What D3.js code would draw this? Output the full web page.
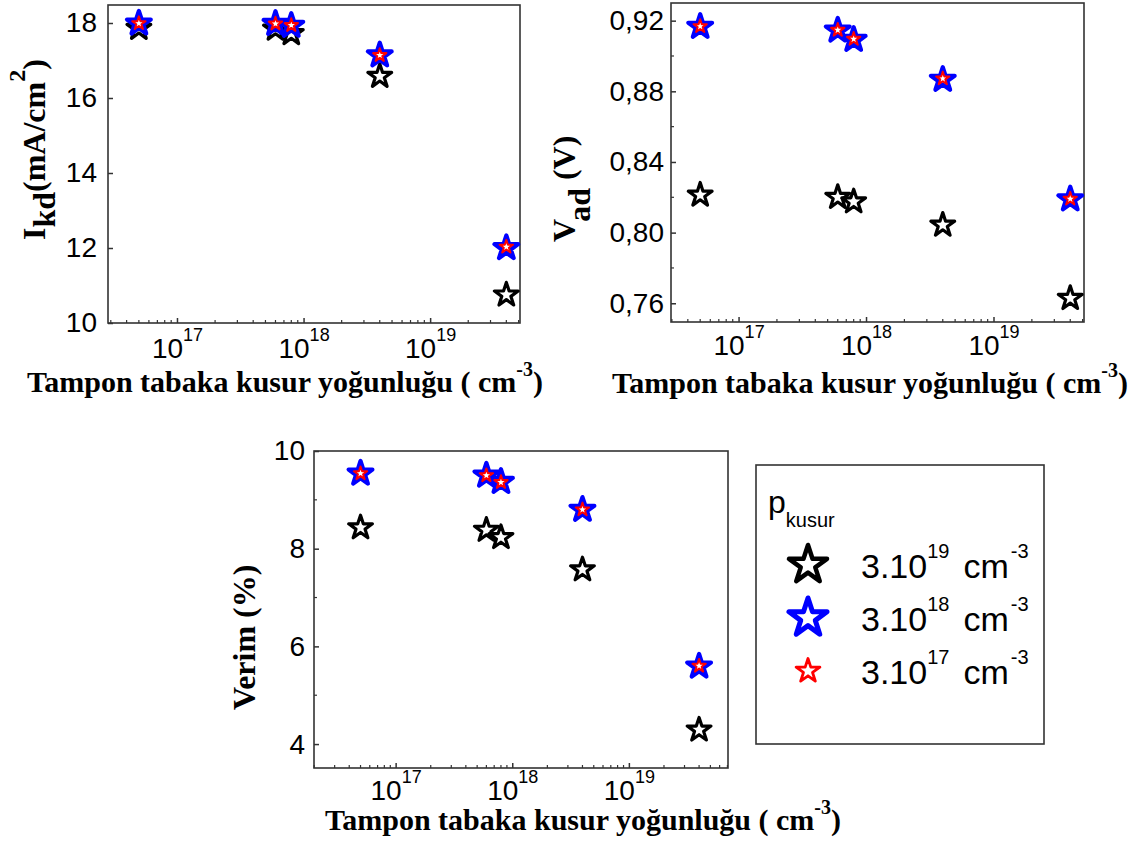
<!DOCTYPE html>
<html>
<head>
<meta charset="utf-8">
<script src="https://cdn.jsdelivr.net/npm/d3@7"></script>
<style>
  body { margin: 0; background: #fff; }
  svg { display: block; }
  .tick text { font-family: "Liberation Sans", Arial, sans-serif; font-size: 28px; fill: #000; }
  .title { font-family: "Liberation Serif", "Times New Roman", serif; font-weight: bold; fill: #000; }
  .leg { font-family: "Liberation Sans", Arial, sans-serif; fill: #000; }
</style>
</head>
<body>
<svg id="chart" width="1142" height="843"></svg>
<script>
// tampon tabaka kusur yogunlugu (cm-3)
var kusur = [5e16, 6e17, 8e17, 4e18, 4e19];

// I_kd (mA/cm2) for p_kusur = 3e19, 3e18, 3e17
var ikd19 = [17.86, 17.84, 17.72, 16.58, 10.75];
var ikd18 = [17.99, 17.98, 17.93, 17.14, 12.00];
var ikd17 = [17.99, 17.98, 17.94, 17.14, 12.03];

// V_ad (V)
var vad19 = [0.8213, 0.8200, 0.8175, 0.8043, 0.7628];
var vad18 = [0.9166, 0.9145, 0.9092, 0.8866, 0.8189];
var vad17 = [0.9168, 0.9147, 0.9096, 0.8872, 0.8191];

// Verim (%)
var verim19 = [8.43, 8.38, 8.23, 7.57, 4.29];
var verim18 = [9.54, 9.50, 9.37, 8.80, 5.59];
var verim17 = [9.54, 9.50, 9.36, 8.80, 5.60];

var legendLabels = ["19", "18", "17"];
var xTicks = [1e17, 1e18, 1e19];
var ikdTicks = [10, 12, 14, 16, 18];
var vadTicks = [0.76, 0.80, 0.84, 0.88, 0.92];
var vadMinor = [0.78, 0.82, 0.86, 0.90];
var verimTicks = [4, 6, 8, 10];
var verimMinor = [5, 7, 9];

var svg = d3.select("#chart");

var styles = [
  {color: "#000000", r: 12.5, w: 3.2},
  {color: "#0000ff", r: 12.5, w: 4.2},
  {color: "#ff0000", r: 7, w: 2}
];

function starPath(r) {
  return d3.symbol().type(d3.symbolStar).size(r * r / 0.8908130915292852)();
}

function drawPanel(p) {
  var g = svg.append("g");
  var x = d3.scaleLog().domain(p.xDomain).range([p.left, p.right]);
  var y = d3.scaleLinear().domain(p.yDomain).range([p.bottom, p.top]);

  // minor x ticks
  var minor = [];
  for (var d = 16; d <= 19; d++) {
    for (var k = 2; k <= 9; k++) {
      var v = k * Math.pow(10, d);
      if (v > p.xDomain[0] && v < p.xDomain[1]) minor.push(v);
    }
  }
  g.selectAll(".mx").data(minor).enter().append("line")
    .attr("x1", function(d) { return x(d); }).attr("x2", function(d) { return x(d); })
    .attr("y1", p.bottom).attr("y2", p.bottom - 3)
    .attr("stroke", "#333").attr("stroke-width", 1.2);
  g.selectAll(".my").data(p.yMinor).enter().append("line")
    .attr("x1", p.left).attr("x2", p.left + 3)
    .attr("y1", function(d) { return y(d); }).attr("y2", function(d) { return y(d); })
    .attr("stroke", "#333").attr("stroke-width", 1.2);

  var xa = g.append("g").attr("transform", "translate(0," + p.bottom + ")")
    .call(d3.axisBottom(x).tickValues(xTicks).tickSizeInner(-5).tickSizeOuter(0));
  xa.select(".domain").remove();
  xa.selectAll(".tick line").attr("stroke", "#333").attr("stroke-width", 1.5);
  xa.selectAll(".tick text").each(function(d) {
    var t = d3.select(this).text(null).attr("y", p.xLabelOff).attr("dy", 0);
    t.append("tspan").text("10");
    t.append("tspan").attr("dy", -17).style("font-size", "18px").text(Math.round(Math.log10(d)));
  });

  var ya = g.append("g").attr("transform", "translate(" + p.left + ",0)")
    .call(d3.axisLeft(y).tickValues(p.yTicks).tickSizeInner(-5).tickSizeOuter(0).tickFormat(p.fmt));
  ya.select(".domain").remove();
  ya.selectAll(".tick line").attr("stroke", "#333").attr("stroke-width", 1.5);
  ya.selectAll(".tick text").attr("x", -p.yLabelOff);

  g.append("rect").attr("x", p.left).attr("y", p.top)
    .attr("width", p.right - p.left).attr("height", p.bottom - p.top)
    .attr("fill", "none").attr("stroke", "#333").attr("stroke-width", 1.6);

  // markers: black, then blue, then red on top
  p.series.forEach(function(vals, i) {
    var s = styles[i];
    g.selectAll(".s" + i).data(vals).enter().append("path")
      .attr("d", starPath(s.r))
      .attr("transform", function(d, j) { return "translate(" + x(kusur[j]) + "," + y(d) + ")"; })
      .attr("fill", "#fff").attr("stroke", s.color).attr("stroke-width", s.w)
      .attr("stroke-linejoin", "round");
  });

  // x title
  var xt = svg.append("text").attr("class", "title").attr("x", p.xtX).attr("y", p.xtY)
    .style("font-size", "30px");
  xt.append("tspan").text("Tampon tabaka kusur yoğunluğu ( cm");
  xt.append("tspan").attr("dy", -16).style("font-size", "20px").text("-3");
  xt.append("tspan").attr("dy", 16).text(")");

  // y title
  var yt = svg.append("text").attr("class", "title")
    .attr("transform", "translate(" + p.ytX + "," + p.ytY + ") rotate(-90)")
    .style("font-size", "32px");
  p.yTitle.forEach(function(part) {
    var ts = yt.append("tspan").text(part.t);
    if (part.dy) ts.attr("dy", part.dy);
    if (part.fs) ts.style("font-size", part.fs);
  });
}

var comma = function(d) { return d3.format(".2f")(d).replace(".", ","); };

drawPanel({
  left: 108, right: 520, top: 5, bottom: 323,
  xDomain: [Math.pow(10, 16.455), Math.pow(10, 19.71)], yDomain: [10, 18.48],
  yTicks: ikdTicks, yMinor: [], fmt: d3.format("d"),
  xLabelOff: 35, yLabelOff: 11,
  series: [ikd19, ikd18, ikd17],
  xtX: 27, xtY: 392, ytX: 45, ytY: 240,
  yTitle: [{t: "I"}, {t: "kd", dy: 10}, {t: "(mA/cm", dy: -10}, {t: "2", dy: -20, fs: "24px"}, {t: ")", dy: 20}]
});

drawPanel({
  left: 671, right: 1084, top: 3, bottom: 322,
  xDomain: [Math.pow(10, 16.47), Math.pow(10, 19.71)], yDomain: [0.7494, 0.930],
  yTicks: vadTicks, yMinor: vadMinor, fmt: comma,
  xLabelOff: 33, yLabelOff: 7,
  series: [vad19, vad18, vad17],
  xtX: 612, xtY: 393, ytX: 575, ytY: 242,
  yTitle: [{t: "V"}, {t: "ad", dy: 15}, {t: " (V)", dy: -15}]
});

drawPanel({
  left: 314, right: 728, top: 451, bottom: 768,
  xDomain: [Math.pow(10, 16.3), Math.pow(10, 19.85)], yDomain: [3.51, 10],
  yTicks: verimTicks, yMinor: verimMinor, fmt: d3.format("d"),
  xLabelOff: 32, yLabelOff: 9,
  series: [verim19, verim18, verim17],
  xtX: 325, xtY: 830, ytX: 255, ytY: 710,
  yTitle: [{t: "Verim (%)"}]
});

// legend
var lg = svg.append("g");
lg.append("rect").attr("x", 756).attr("y", 465).attr("width", 288).attr("height", 279)
  .attr("fill", "none").attr("stroke", "#333").attr("stroke-width", 1.6);
var lt = lg.append("text").attr("class", "leg").attr("x", 768).attr("y", 513).style("font-size", "32px");
lt.append("tspan").text("p");
lt.append("tspan").attr("dy", 14).style("font-size", "20px").text("kusur");

var legStyles = [
  {color: "#000000", r: 20, w: 4.5},
  {color: "#0000ff", r: 20, w: 5},
  {color: "#ff0000", r: 12.5, w: 2.8}
];
var rowY = d3.scalePoint().domain(legendLabels).range([565, 671]);
legendLabels.forEach(function(lab, i) {
  var s = legStyles[i];
  lg.append("path").attr("d", starPath(s.r))
    .attr("transform", "translate(808," + rowY(lab) + ")")
    .attr("fill", "#fff").attr("stroke", s.color).attr("stroke-width", s.w)
    .attr("stroke-linejoin", "round");
  var t = lg.append("text").attr("class", "leg").attr("x", 861).attr("y", rowY(lab) + 13)
    .style("font-size", "34px");
  t.append("tspan").text("3.10");
  t.append("tspan").attr("dy", -20).style("font-size", "20px").text(lab);
  t.append("tspan").attr("dy", 20).attr("dx", 14).text("cm");
  t.append("tspan").attr("dy", -20).attr("dx", 2).style("font-size", "20px").text("-3");
});
</script>
</body>
</html>
